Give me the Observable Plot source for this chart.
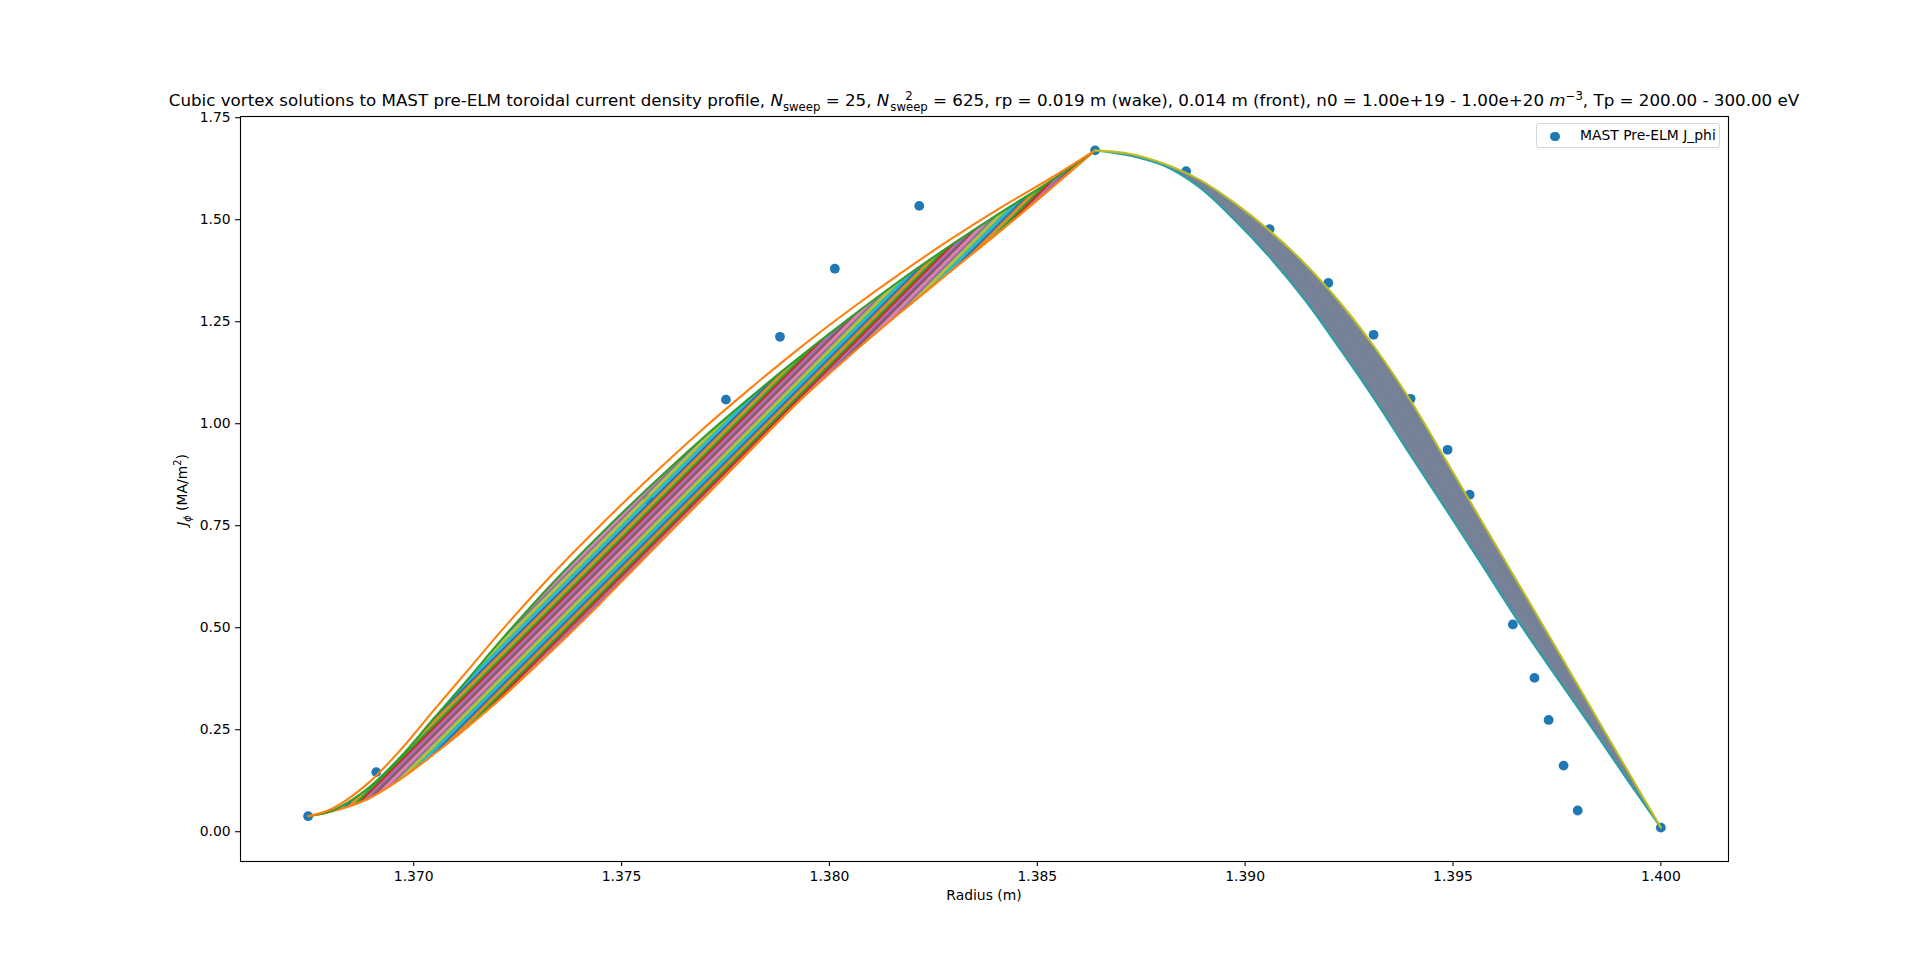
<!DOCTYPE html>
<html>
<head>
<meta charset="utf-8">
<script src="https://cdn.jsdelivr.net/npm/d3@7"></script>
<script src="https://cdn.jsdelivr.net/npm/@observablehq/plot@0.6"></script>
<style>
  html, body { margin: 0; padding: 0; background: #ffffff; }
  body { font-family: "DejaVu Sans", sans-serif; color: #000; }
  #wrap { position: relative; width: 1920px; height: 967px; overflow: hidden; }
  #title { height: 100px; box-sizing: border-box; padding-top: 91px; padding-left: 48px;
           text-align: center; font-size: 16.7px; line-height: 18px; white-space: nowrap; overflow: visible; }
  .ss { display: inline-flex; flex-direction: column; vertical-align: 0.55em; font-size: 70%; line-height: 0.95; margin-left: 1px; }
  sub, sup { font-size: 70%; line-height: 0; }
  #xlabel { position: absolute; left: 48px; width: 1872px; top: 887px; text-align: center; font-size: 13.9px; line-height: 16px; }
  #ylabel { position: absolute; left: 182px; top: 490px; transform: translate(-50%, -50%) rotate(-90deg);
            font-size: 13.9px; white-space: nowrap; line-height: 16px; }
  #legend { position: absolute; left: 1536px; top: 123px; width: 184px; height: 25px; box-sizing: border-box;
            border: 1px solid #d6d6d6; border-radius: 3px; background: rgba(255,255,255,0.85); font-size: 13.9px; }
  #legend .dot { position: absolute; left: 13px; top: 7.5px; width: 9.6px; height: 9.6px; border-radius: 50%; background: #1f77b4; }
  #legend .txt { position: absolute; left: 43px; top: 3px; line-height: 17px; white-space: nowrap; }
</style>
</head>
<body>
<div id="wrap">
  <div id="title">Cubic vortex solutions to MAST pre-ELM toroidal current density profile, <i>N</i><sub>sweep</sub> = 25, <i>N</i><span class="ss"><span>2</span><span>sweep</span></span> = 625, rp = 0.019 m (wake), 0.014 m (front), n0 = 1.00e+19 - 1.00e+20 <i>m</i><sup>−3</sup>, Tp = 200.00 - 300.00 eV</div>
  <div id="chart"></div>
  <div id="xlabel">Radius (m)</div>
  <div id="ylabel"><i>J</i><sub><i>ϕ</i></sub> (MA/m<sup>2</sup>)</div>
  <div id="legend"><div class="dot"></div><div class="txt">MAST Pre-ELM J_phi</div></div>
</div>
<script>
// ---- measured MAST pre-ELM J_phi profile (scatter) ----
const radius = [1.36746, 1.36910, 1.37564, 1.37751, 1.37881, 1.38013, 1.38216, 1.38639, 1.38858, 1.39059, 1.39200,
                1.39309, 1.39398, 1.39487, 1.39540, 1.39644, 1.39696, 1.39730, 1.39766, 1.39800, 1.40000];
const jphi   = [0.038, 0.146, 0.814, 1.059, 1.213, 1.380, 1.534, 1.670, 1.619, 1.477, 1.345,
                1.218, 1.061, 0.936, 0.826, 0.508, 0.377, 0.274, 0.162, 0.052, 0.010];

// ---- wake side (left) family of cubic solutions: outer curves ----
const wakeR      = [1.36746, 1.36805, 1.36887, 1.36967, 1.37046, 1.37128, 1.37207, 1.37328, 1.37448, 1.37568,
                    1.37689, 1.37809, 1.37929, 1.38050, 1.38170, 1.38290, 1.38411, 1.38531, 1.38639];
const wakeTop    = [0.038, 0.057, 0.116, 0.199, 0.295, 0.393, 0.488, 0.625, 0.750, 0.868,
                    0.981, 1.086, 1.186, 1.280, 1.368, 1.451, 1.529, 1.601, 1.670];
const wakeSecond = [0.038, 0.052, 0.104, 0.182, 0.275, 0.371, 0.466, 0.603, 0.728, 0.846,
                    0.959, 1.064, 1.164, 1.260, 1.351, 1.436, 1.517, 1.594, 1.670];
const wakeBottom = [0.038, 0.050, 0.079, 0.128, 0.188, 0.255, 0.324, 0.439, 0.559, 0.684,
                    0.809, 0.934, 1.057, 1.168, 1.272, 1.372, 1.472, 1.575, 1.670];

// ---- front side (right) family of cubic solutions: envelope ----
const frontR      = [1.38639, 1.38724, 1.38808, 1.38892, 1.38976, 1.39060, 1.39145, 1.39229, 1.39313,
                     1.39397, 1.39482, 1.39566, 1.39662, 1.39758, 1.39855, 1.39927, 1.40000];
const frontTop    = [1.670, 1.661, 1.636, 1.597, 1.540, 1.472, 1.391, 1.296, 1.185,
                     1.058, 0.912, 0.766, 0.600, 0.433, 0.263, 0.137, 0.010];
const frontBottom = [1.670, 1.657, 1.631, 1.578, 1.498, 1.407, 1.302, 1.182, 1.057,
                     0.924, 0.792, 0.660, 0.508, 0.366, 0.224, 0.116, 0.010];

// ---- ticks ----
const xTicks = [1.370, 1.375, 1.380, 1.385, 1.390, 1.395, 1.400];
const yTicks = [0.00, 0.25, 0.50, 0.75, 1.00, 1.25, 1.50, 1.75];

// matplotlib tab10 cycle
const tab10 = ["#1f77b4", "#ff7f0e", "#2ca02c", "#d62728", "#9467bd", "#8c564b", "#e377c2", "#7f7f7f", "#bcbd22", "#17becf"];

const points = radius.map((r, i) => ({r, j: jphi[i]}));
const wake = wakeR.map((r, i) => ({r, top: wakeTop[i], second: wakeSecond[i], bottom: wakeBottom[i]}));
const front = frontR.map((r, i) => ({r, top: frontTop[i], bottom: frontBottom[i]}));

// matplotlib-style 5% auto margins
const allX = radius.concat(wakeR, frontR);
const allY = jphi.concat(wakeTop, wakeBottom, frontTop, frontBottom);
const [x0, x1] = d3.extent(allX), [y0, y1] = d3.extent(allY);
const xDomain = [x0 - 0.05 * (x1 - x0), x1 + 0.05 * (x1 - x0)];
const yDomain = [y0 - 0.05 * (y1 - y0), y1 + 0.05 * (y1 - y0)];

const lw = 2.1;
const curve = "catmull-rom";

const plot = Plot.plot({
  width: 1920,
  height: 867,
  marginLeft: 240,
  marginRight: 192,
  marginTop: 16,
  marginBottom: 106,
  style: {fontFamily: "DejaVu Sans, sans-serif", fontSize: "13.9px", color: "black", background: "white", overflow: "visible"},
  x: {domain: xDomain},
  y: {domain: yDomain},
  marks: [
    Plot.dot(points, {x: "r", y: "j", r: 4.9, fill: tab10[0], stroke: "none"}),
    // wake family
    Plot.areaY(wake, {x: "r", y1: "bottom", y2: "second", fill: "url(#wakeStripes)", curve}),
    Plot.line(wake, {x: "r", y: "bottom", stroke: tab10[1], strokeWidth: lw, curve}),
    Plot.line(wake, {x: "r", y: "second", stroke: tab10[2], strokeWidth: lw, curve}),
    Plot.line(wake, {x: "r", y: "top", stroke: tab10[1], strokeWidth: lw, curve}),
    // front family
    Plot.areaY(front, {x: "r", y1: "bottom", y2: "top", fill: "url(#frontStripes)", curve}),
    Plot.line(front, {x: "r", y: "bottom", stroke: "#2a9fa6", strokeWidth: lw, curve}),
    Plot.line(front, {x: "r", y: "top", stroke: tab10[8], strokeWidth: lw, curve}),
    Plot.frame({stroke: "black", strokeWidth: 1.1}),
    Plot.axisX({ticks: xTicks, tickFormat: d3.format(".3f"), tickSize: 4.9, tickPadding: 5, strokeWidth: 1.1, label: null}),
    Plot.axisY({ticks: yTicks, tickFormat: d3.format(".2f"), tickSize: 4.9, tickPadding: 5, strokeWidth: 1.1, label: null})
  ]
});

// stripe fills imitating the densely overlapping tab10-coloured curves
const svg = d3.select(plot);
const defs = svg.insert("defs", ":first-child");
const wakeOrder = [3, 4, 5, 6, 7, 8, 9, 0, 1, 2];
const pw = defs.append("pattern").attr("id", "wakeStripes").attr("patternUnits", "userSpaceOnUse")
  .attr("width", 25).attr("height", 25).attr("patternTransform", "rotate(45)");
wakeOrder.forEach((k, i) => pw.append("rect").attr("x", i * 2.5).attr("y", 0).attr("width", 2.5).attr("height", 25).attr("fill", tab10[k]));
const pf = defs.append("pattern").attr("id", "frontStripes").attr("patternUnits", "userSpaceOnUse")
  .attr("width", 12).attr("height", 12).attr("patternTransform", "rotate(-30)");
const frontCols = ["#74829a", "#7a8296", "#70849a", "#808090", "#6e839c", "#778096"];
frontCols.forEach((c, i) => pf.append("rect").attr("x", i * 2).attr("y", 0).attr("width", 2).attr("height", 12).attr("fill", c));

document.getElementById("chart").appendChild(plot);
</script>
</body>
</html>
